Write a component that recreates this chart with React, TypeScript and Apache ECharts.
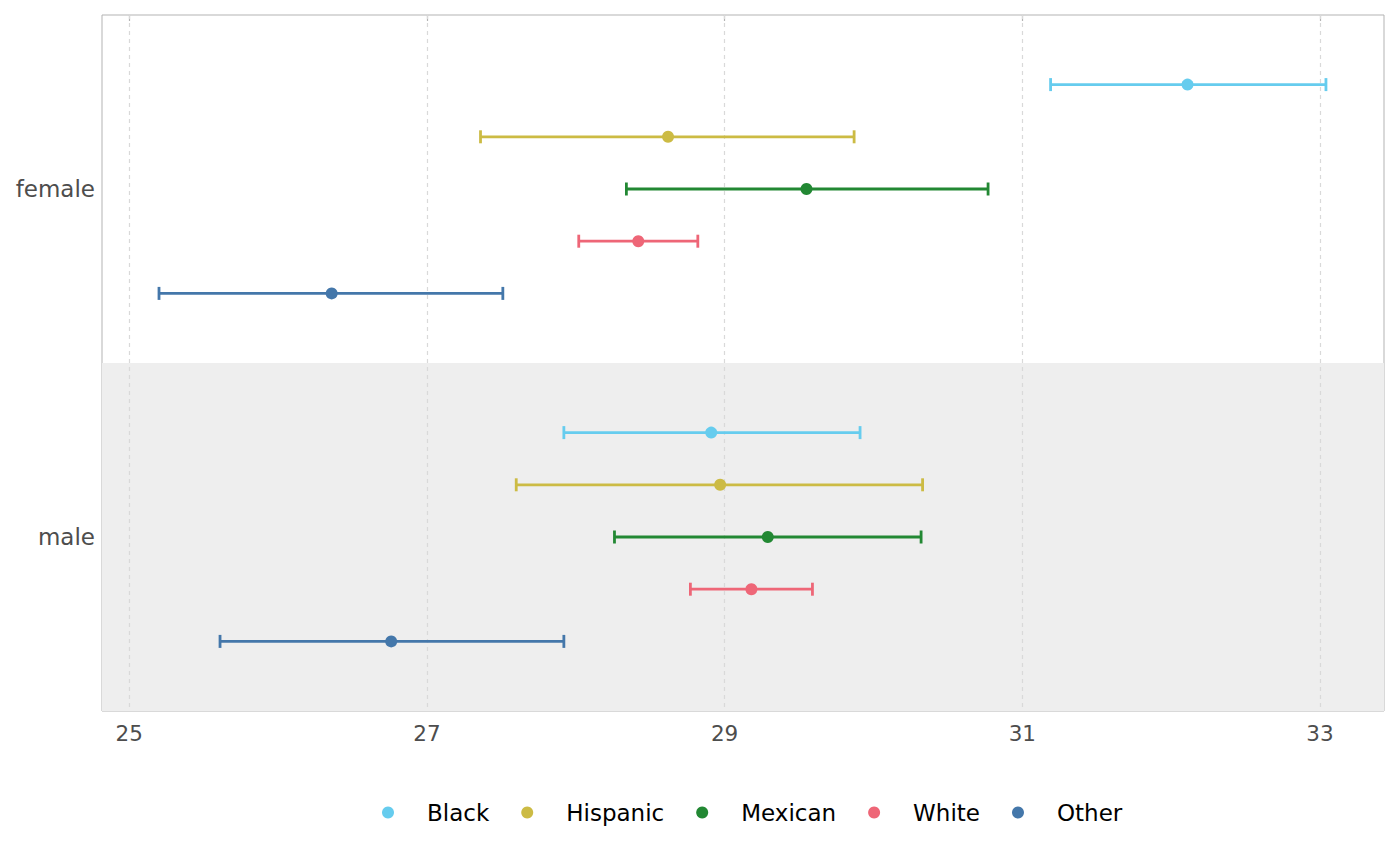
import React, { useEffect, useRef } from "react";
import * as echarts from "echarts";

const races = ["Black", "Hispanic", "Mexican", "White", "Other"];
const raceColors = ["#66CCEE", "#CCBB44", "#228833", "#EE6677", "#4477AA"];
const sexes = ["female", "male"];

const femaleEst = [32.11, 28.62, 29.55, 28.42, 26.36];
const femaleLow = [31.19, 27.36, 28.34, 28.02, 25.2];
const femaleHigh = [33.04, 29.87, 30.77, 28.82, 27.51];

const maleEst = [28.91, 28.97, 29.29, 29.18, 26.76];
const maleLow = [27.92, 27.6, 28.26, 28.77, 25.61];
const maleHigh = [29.91, 30.33, 30.32, 29.59, 27.92];

const xTicks = [25, 27, 29, 31, 33];
const xMin = 24.817;
const xMax = 33.43;

// dodge offsets (in category units) for each race within a sex band
const dodge = [-0.3, -0.15, 0, 0.15, 0.3];

export default function App() {
  const ref = useRef<HTMLDivElement>(null);

  useEffect(() => {
    if (!ref.current) return;
    const chart = echarts.init(ref.current, null, { renderer: "svg" });

    const ests = [femaleEst, maleEst];
    const lows = [femaleLow, maleLow];
    const highs = [femaleHigh, maleHigh];

    const series: any[] = [];

    // background band for male panel
    series.push({
      type: "scatter",
      xAxisIndex: 0,
      yAxisIndex: 1,
      data: [],
      silent: true,
      z: 0,
      itemStyle: { color: "#EEEEEE" },
      markArea: {
        silent: true,
        itemStyle: { color: "#EEEEEE" },
        data: [[{ yAxis: 1 }, { yAxis: 2 }]],
      },
    });

    // vertical dashed grid lines
    series.push({
      type: "scatter",
      xAxisIndex: 0,
      yAxisIndex: 1,
      data: [],
      silent: true,
      z: 1,
      itemStyle: { color: "#DADADA" },
      markLine: {
        silent: true,
        symbol: ["none", "none"],
        label: { show: false },
        lineStyle: { color: "#D9D9D9", type: [4, 4], width: 1.2 },
        data: xTicks.map((t) => ({ xAxis: t })),
      },
    });

    races.forEach((race, i) => {
      const color = raceColors[i];
      const barData = sexes.map((_, s) => [lows[s][i], highs[s][i], s + 0.5 + dodge[i]]);
      const ptData = sexes.map((_, s) => [ests[s][i], s + 0.5 + dodge[i]]);
      series.push({
        name: race,
        type: "scatter",
        xAxisIndex: 0,
        yAxisIndex: 1,
        z: 6,
        symbol: "circle",
        symbolSize: 12,
        itemStyle: { color, opacity: 1 },
        data: ptData,
      });
      series.push({
        name: race,
        type: "custom",
        xAxisIndex: 0,
        yAxisIndex: 1,
        z: 5,
        itemStyle: { color },
        encode: { x: [0, 1], y: 2 },
        data: barData,
        renderItem: (params: any, api: any) => {
          const y = api.value(2);
          const lo = api.coord([api.value(0), y]);
          const hi = api.coord([api.value(1), y]);
          const h = 6.5;
          const st = { stroke: color, lineWidth: 2.8 };
          return {
            type: "group",
            children: [
              { type: "line", shape: { x1: lo[0], y1: lo[1], x2: hi[0], y2: hi[1] }, style: st },
              { type: "line", shape: { x1: lo[0], y1: lo[1] - h, x2: lo[0], y2: lo[1] + h }, style: st },
              { type: "line", shape: { x1: hi[0], y1: hi[1] - h, x2: hi[0], y2: hi[1] + h }, style: st },
            ],
          };
        },
      });
    });

    chart.setOption({
      animation: false,
      textStyle: { fontFamily: "DejaVu Sans" },
      grid: {
        left: 102,
        right: 16,
        top: 15,
        bottom: 155,
        show: true,
        borderColor: "#B3B3B3",
        borderWidth: 1,
        backgroundColor: "transparent",
        containLabel: false,
      },
      xAxis: {
        type: "value",
        min: xMin,
        max: xMax,
        splitLine: { show: false },
        axisLine: { show: false },
        axisTick: {
          show: true,
          customValues: xTicks,
          length: 6,
          lineStyle: { color: "#B3B3B3", width: 1.2 },
        },
        axisLabel: {
          customValues: xTicks,
          fontSize: 21.5,
          color: "#4D4D4D",
          margin: 11,
          fontFamily: "DejaVu Sans",
        },
      },
      yAxis: [
        {
          type: "category",
          data: sexes,
          inverse: true,
          axisLine: { show: false },
          axisTick: { show: false },
          splitLine: { show: false },
          axisLabel: { fontSize: 23, color: "#4D4D4D", margin: 7, fontFamily: "DejaVu Sans" },
        },
        {
          type: "value",
          min: 0,
          max: 2,
          inverse: true,
          show: false,
          splitLine: { show: false },
        },
      ],
      legend: {
        data: races.map((r, i) => ({ name: r, icon: "circle", itemStyle: { color: raceColors[i] } })),
        left: 382,
        top: 801,
        padding: 0,
        itemWidth: 12,
        itemHeight: 12,
        itemGap: 32,
        textStyle: {
          fontSize: 23,
          color: "#000000",
          fontFamily: "DejaVu Sans",
          padding: [0, 0, 0, 28],
        },
      },
      series,
    });

    return () => chart.dispose();
  }, []);

  return (
    <div
      ref={ref}
      style={{ position: "fixed", left: 0, top: 0, width: 1400, height: 866, background: "#fff" }}
    />
  );
}
